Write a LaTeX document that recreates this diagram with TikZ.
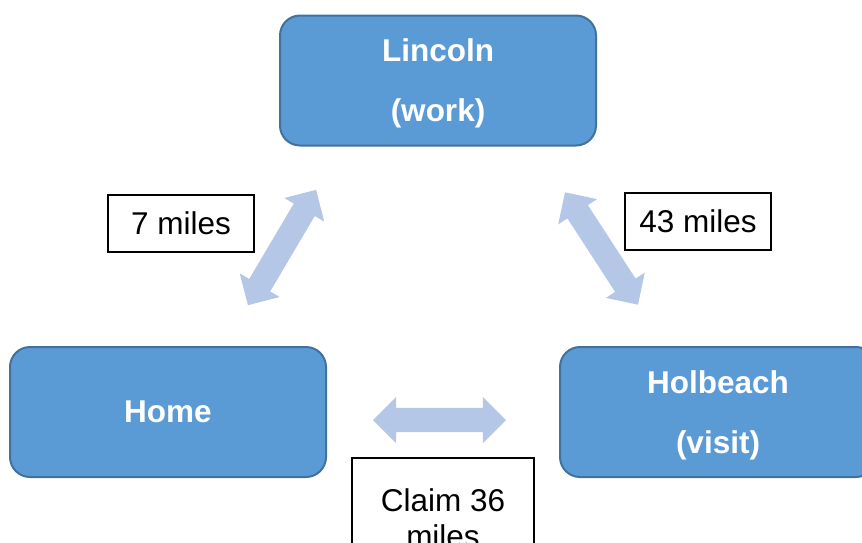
\documentclass[tikz,border=0pt]{standalone}
\usepackage{fontspec}
\setmainfont{Liberation Sans}
\usetikzlibrary{shapes.arrows}
\definecolor{boxblue}{HTML}{5B9BD5}
\definecolor{boxedge}{HTML}{41719C}
\definecolor{arrowblue}{HTML}{B4C7E7}

\begin{document}
\begin{tikzpicture}[x=1pt,y=-1pt,
    place/.style={draw=boxedge, line width=2pt, fill=boxblue, rounded corners=20pt,
        minimum width=316pt, minimum height=130pt, text=white, align=center,
        text depth=0pt, font=\fontsize{31.5}{60}\selectfont\bfseries},
    dist/.style={draw=black, line width=1.5pt, fill=white, align=center, inner sep=0pt,
        font=\fontsize{31.5}{36}\selectfont},
    link/.style={double arrow, fill=arrowblue, inner xsep=0pt, inner ysep=12pt,
        double arrow head extend=11pt, minimum height=134pt}]
    \useasboundingbox (0,0) rectangle (862,542);
    \clip (0,0) rectangle (862,542);

    % places
    \node[place] (lincoln) at (438,80.5) {Lincoln\\(work)};
    \node[place] (home) at (168,412) {Home};
    \node[place] (holbeach) at (718,412) {Holbeach\\(visit)};

    % arrows between them
    \node[link, rotate=59.4] (homelink) at (282,247.5) {};
    \node[link, rotate=-57] (visitlink) at (601.5,248.5) {};
    \node[link, minimum height=133pt] (claimlink) at (439.5,420) {};

    % distances
    \node[dist, minimum width=146pt, minimum height=57pt] (d7) at (181,223.5) {7 miles};
    \node[dist, minimum width=146pt, minimum height=57pt] (d43) at (698,221.5) {43 miles};
    \node[dist, minimum width=182pt, minimum height=120pt] (d36) at (443,518) {Claim 36\\miles};
\end{tikzpicture}
\end{document}
